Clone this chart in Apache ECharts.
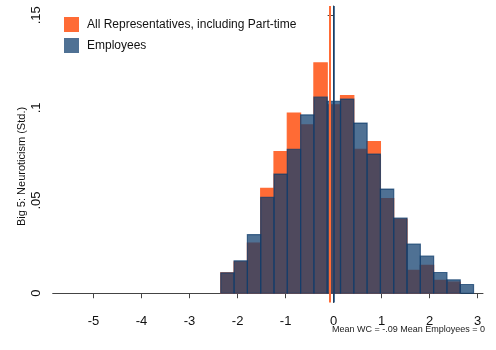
<!DOCTYPE html>
<html>
<head>
<meta charset="utf-8">
<script src="https://cdn.jsdelivr.net/npm/echarts@6/dist/echarts.min.js"></script>
<style>
  html, body { margin: 0; padding: 0; background: #fff; }
  #chart { width: 496px; height: 350px; }
</style>
</head>
<body>
<div id="chart"></div>
<script>
// Histogram bins (standardised neuroticism score)
const binStart = -2.35;
const binWidth = 0.277;

// Fraction of observations in each bin
const allReps = [0.011, 0.017, 0.027, 0.0566, 0.0764, 0.0972, 0.0908, 0.1243, 0.1017, 0.1067,
                 0.0777, 0.0818, 0.0511, 0.040, 0.0123, 0.015, 0.0069, 0.006, 0];
const employees = [0.011, 0.0175, 0.0316, 0.0517, 0.0643, 0.0777, 0.0962, 0.1058, 0.1035, 0.1048,
                   0.0918, 0.0751, 0.0562, 0.0406, 0.0265, 0.020, 0.0112, 0.0072, 0.0047];

// Group means
const meanAllReps = -0.09;
const meanEmployees = 0;

// Axis ticks
const xTicks = [-5, -4, -3, -2, -1, 0, 1, 2, 3];
const yTicks = [0, 0.05, 0.1, 0.15];
const yTickLabels = ['0', '.05', '.1', '.15'];

const seriesNames = ['All Representatives, including Part-time', 'Employees'];

const orange = '#ff6b35';
const blue = 'rgba(14,60,108,0.73)';

function binData(values) {
  return values.map((v, i) => [binStart + i * binWidth, binStart + (i + 1) * binWidth, v]);
}

function renderBar(params, api) {
  const x0 = api.value(0), x1 = api.value(1), h = api.value(2);
  if (h <= 0) return null;
  const p0 = api.coord([x0, h]);
  const p1 = api.coord([x1, 0]);
  return {
    type: 'rect',
    shape: { x: p0[0], y: p0[1], width: p1[0] - p0[0], height: p1[1] - p0[1] },
    style: api.style({ stroke: api.visual('color'), lineWidth: 1.2 })
  };
}

const chart = echarts.init(document.getElementById('chart'), null, { renderer: 'canvas' });
const font = 'Liberation Sans, Arial, sans-serif';

chart.setOption({
  animation: false,
  textStyle: { fontFamily: font },
  grid: { left: 52.7, right: 13, top: 6, bottom: 47.5, containLabel: false },
  legend: {
    orient: 'vertical', left: 64, top: 17, padding: 0,
    itemWidth: 15, itemHeight: 15, itemGap: 6,
    icon: 'rect',
    textStyle: { fontSize: 12, color: '#111', fontFamily: font, padding: [0, 0, 0, 3] },
    data: seriesNames
  },
  xAxis: {
    type: 'value', min: -5.85, max: 3.11,
    axisLine: { show: true, lineStyle: { color: '#444', width: 1 } },
    axisTick: { show: true, length: 5, lineStyle: { color: '#444' }, customValues: xTicks },
    axisLabel: { fontSize: 13, color: '#111', margin: 12, customValues: xTicks, formatter: v => String(v) },
    splitLine: { show: false }
  },
  yAxis: {
    type: 'value', min: -0.005, max: 0.155,
    axisLine: { show: true, lineStyle: { color: '#444', width: 1 } },
    axisTick: { show: true, length: 6, lineStyle: { color: '#444' }, customValues: yTicks },
    axisLabel: {
      fontSize: 13, color: '#111', rotate: 90, margin: 10, customValues: yTicks,
      formatter: v => {
        const i = yTicks.findIndex(t => Math.abs(t - v) < 1e-9);
        return i >= 0 ? yTickLabels[i] : '';
      }
    },
    splitLine: { show: false }
  },
  graphic: [
    {
      type: 'text', x: 21.7, y: 166.5, rotation: Math.PI / 2,
      style: { text: 'Big 5: Neuroticism (Std.)', fontSize: 11, fill: '#111', fontFamily: font,
               align: 'center', verticalAlign: 'middle' }
    },
    {
      type: 'text', right: 11, top: 325.5,
      style: { text: 'Mean WC = -.09 Mean Employees = 0', fontSize: 9, fill: '#222', fontFamily: font }
    }
  ],
  series: [
    {
      name: seriesNames[0], type: 'custom', renderItem: renderBar,
      itemStyle: { color: orange },
      encode: { x: [0, 1], y: 2 },
      data: binData(allReps),
      markLine: {
        silent: true, symbol: 'none', label: { show: false },
        lineStyle: { color: orange, width: 2, type: 'solid' },
        data: [{ xAxis: meanAllReps }]
      },
      z: 2
    },
    {
      name: seriesNames[1], type: 'custom', renderItem: renderBar,
      itemStyle: { color: blue },
      encode: { x: [0, 1], y: 2 },
      data: binData(employees),
      markLine: {
        silent: true, symbol: 'none', label: { show: false },
        lineStyle: { color: blue, width: 2, type: 'solid' },
        data: [{ xAxis: meanEmployees }]
      },
      z: 3
    }
  ]
});
</script>
</body>
</html>
